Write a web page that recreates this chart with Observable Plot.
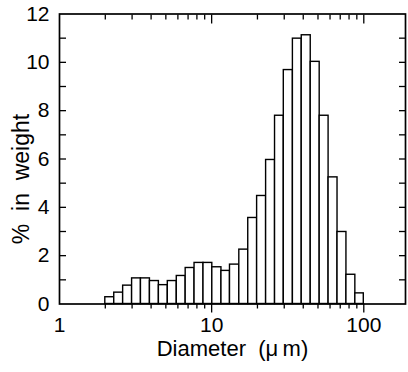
<!DOCTYPE html>
<html>
<head>
<meta charset="utf-8">
<script src="https://cdn.jsdelivr.net/npm/d3@7"></script>
<script src="https://cdn.jsdelivr.net/npm/@observablehq/plot@0.6"></script>
<style>
  html, body { margin: 0; padding: 0; background: white; }
  g[aria-label="x-title"] text { letter-spacing: 0.4px; }
  g[aria-label="y-title"] text { letter-spacing: 0.6px; }
</style>
</head>
<body>
<div id="chart"></div>
<script>
// Bin edges (µm), geometric channels
const diameterEdges = [2.0, 2.29, 2.62, 3.0, 3.43, 3.93, 4.5, 5.15, 5.9, 6.75, 7.72, 8.84, 10.1, 11.6, 13.2, 15.2, 17.4, 19.9, 22.8, 26.1, 29.8, 34.2, 39.1, 44.8, 51.3, 58.7, 67.2, 76.9, 88.0, 100];
// % in weight for each bin
const weightPct = [0.28, 0.47, 0.76, 1.06, 1.06, 0.95, 0.78, 0.95, 1.16, 1.49, 1.70, 1.70, 1.52, 1.37, 1.63, 2.25, 3.56, 4.47, 5.96, 7.79, 9.68, 10.98, 11.12, 10.02, 7.79, 5.24, 2.98, 1.21, 0.44];

const yMajorTicks = [0, 2, 4, 6, 8, 10, 12];
const yAllTicks = [1, 2, 3, 4, 5, 6, 7, 8, 9, 10, 11];
const xMajorTicks = [1, 10, 100];
const xMinorTicks = [2, 3, 4, 5, 6, 7, 8, 9, 20, 30, 40, 50, 60, 70, 80, 90];
const xLabel = "Diameter\u00a0\u00a0(\u03bc\u2009m)";
const yLabel = "%\u00a0\u00a0in\u00a0\u00a0weight";

const bins = weightPct.map((v, i) => ({x1: diameterEdges[i], x2: diameterEdges[i + 1], y: v}));
const blank = () => "";

const chart = Plot.plot({
  width: 408,
  height: 372,
  marginTop: 13.5,
  marginBottom: 68.5,
  marginLeft: 59,
  marginRight: 3,
  x: {type: "log", domain: [1, 188]},
  y: {domain: [0, 12]},
  style: {fontFamily: "'Liberation Sans', Arial, sans-serif", fontSize: "21px", color: "black", background: "white", overflow: "visible"},
  marks: [
    Plot.rectY(bins, {x1: "x1", x2: "x2", y: "y", fill: "white", stroke: "black", strokeWidth: 1.4}),
    Plot.frame({stroke: "black", strokeWidth: 1.7}),
    // left axis: labels and inward ticks
    Plot.axisY(yMajorTicks, {anchor: "left", tickSize: 0, tickPadding: 10, fontSize: 21, label: null}),
    Plot.axisY(yAllTicks, {anchor: "left", tickSize: -7, tickFormat: blank, label: null, strokeWidth: 1.3}),
    // right axis: inward ticks
    Plot.axisY(yAllTicks, {anchor: "right", tickSize: -7, tickFormat: blank, label: null, strokeWidth: 1.3}),
    // bottom axis: outward ticks + labels
    Plot.axisX(xMajorTicks, {anchor: "bottom", tickSize: 0, tickPadding: 13, fontSize: 21, tickFormat: d => String(d), label: null}),
    Plot.axisX(xMinorTicks, {anchor: "bottom", tickSize: 5, tickFormat: blank, label: null, strokeWidth: 1.3}),
    Plot.axisX([10, 100], {anchor: "bottom", tickSize: 9, tickFormat: blank, label: null, strokeWidth: 1.3}),
    // top axis: inward ticks
    Plot.axisX(xMinorTicks, {anchor: "top", tickSize: -5, tickFormat: blank, label: null, strokeWidth: 1.3}),
    Plot.axisX([10, 100], {anchor: "top", tickSize: -9, tickFormat: blank, label: null, strokeWidth: 1.3}),
    // axis titles
    Plot.text([xLabel], {text: d => d, frameAnchor: "bottom", dy: 52, fontSize: 22, fill: "black", ariaLabel: "x-title"}),
    Plot.text([yLabel], {text: d => d, frameAnchor: "left", textAnchor: "middle", dx: -37.5, dy: 20, rotate: -90, fontSize: 23, fill: "black", ariaLabel: "y-title"})
  ]
});
document.getElementById("chart").appendChild(chart);
</script>
</body>
</html>
